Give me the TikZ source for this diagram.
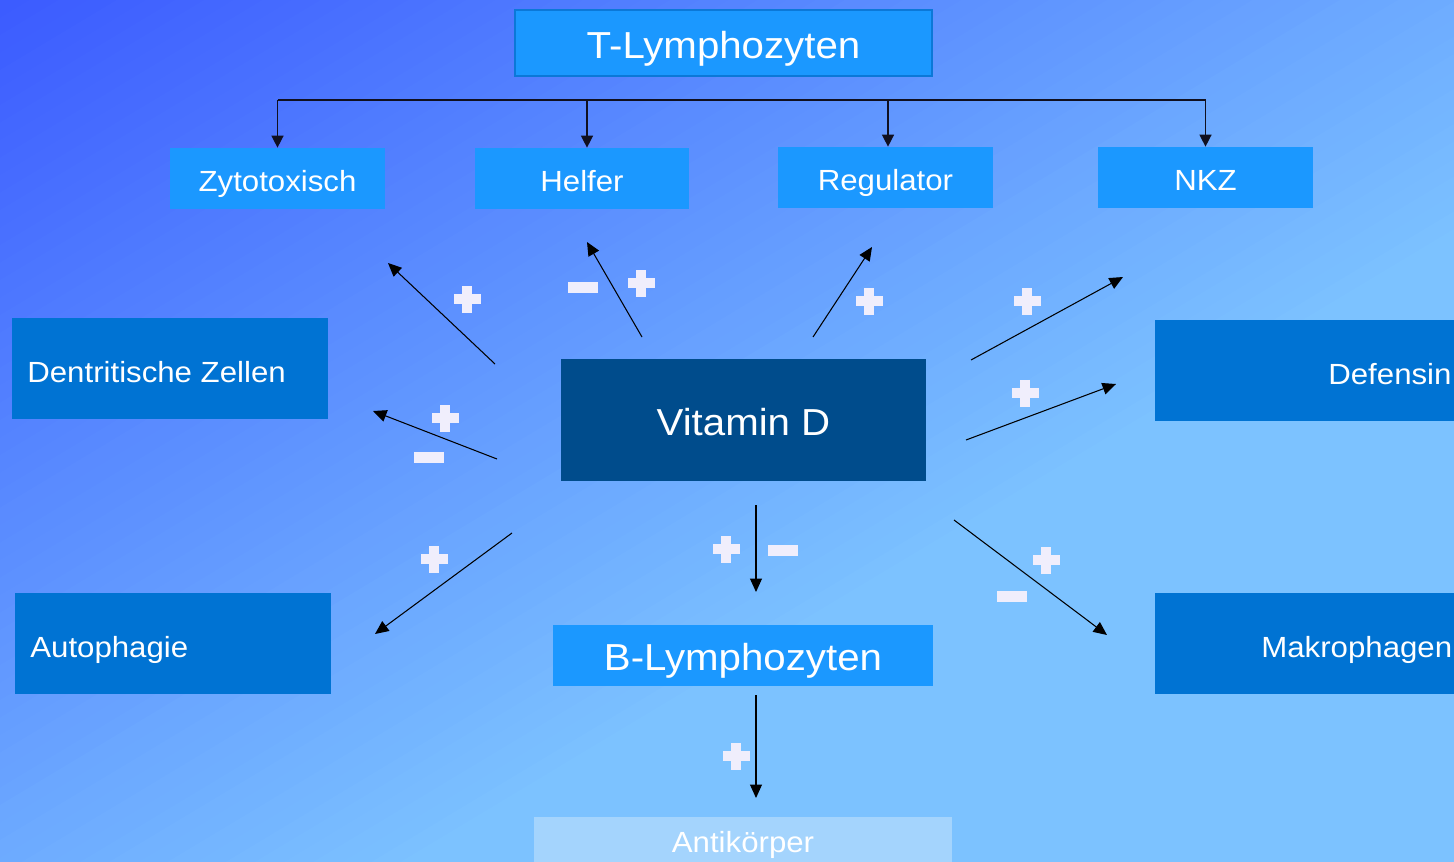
\documentclass[tikz,border=0pt]{standalone}
\usepackage{fontspec}
\setmainfont[FakeStretch=1.07]{Liberation Sans}
\usetikzlibrary{arrows.meta}
\definecolor{bgA}{HTML}{3C5CFF}
\definecolor{bgB}{HTML}{7CC2FF}
\definecolor{boxlight}{HTML}{1B98FF}
\definecolor{boxmid}{HTML}{0073D3}
\definecolor{boxdark}{HTML}{004C8C}
\definecolor{boxpale}{HTML}{A4D4FD}
\definecolor{tborder}{HTML}{0B78D8}
\definecolor{signc}{HTML}{F0EEFC}
\definecolor{linec}{HTML}{101020}
\newcommand\fontS{\fontsize{16.6pt}{20pt}\selectfont}
\newcommand\fontL{\fontsize{21.4pt}{26pt}\selectfont}
\begin{document}
\begin{tikzpicture}[x=0.02cm,y=-0.02cm,
  box/.style={rectangle, inner sep=0pt, text=white, text depth=0pt},
  smallbox/.style={box, fill=boxlight, font=\fontS, text height=14.75pt,
    minimum width=4.3cm, minimum height=1.22cm},
  bigtext/.style={font=\fontL, text height=17.6pt},
  sidebox/.style={box, fill=boxmid, minimum height=2.02cm},
  sidetext/.style={inner sep=0pt, text=white, font=\fontS, anchor=base west},
  arr/.style={draw=black, line width=0.6pt, -{Triangle[length=0.27cm,width=0.24cm]}},
  tree/.style={draw=linec, line width=0.8pt},
  treearr/.style={tree, -{Triangle[length=0.24cm,width=0.24cm]}},
  plussign/.pic={\fill[signc] (-13.5,-5) rectangle (13.5,5);
                 \fill[signc] (-5,-13.5) rectangle (5,13.5);},
  minussign/.pic={\fill[signc] (-15,-5.5) rectangle (15,5.5);}
]
% background
\useasboundingbox (0,0) rectangle (1454,862);
\clip (0,0) rectangle (1454,862);
\fill[bgB] (0,0) rectangle (1454,862);
\foreach \i in {0,...,63}{
  \pgfmathtruncatemacro\p{\i*100/63}
  \fill[bgB!\p!bgA, rotate around={-59:(0,0)}] (\i*15,-1500) rectangle (\i*15+16,1500);
}

% nodes
\node[box, fill=boxlight, draw=tborder, line width=1.2pt, bigtext,
      minimum width=8.34cm, minimum height=1.32cm] (tly) at (723.5,43) {T-Lymphozyten};
\node[smallbox] (zyt) at (277.5,178.5) {Zytotoxisch};
\node[smallbox] (hel) at (582,178.5) {Helfer};
\node[smallbox] (reg) at (885.5,177.5) {Regulator};
\node[smallbox] (nkz) at (1205.5,177.5) {NKZ};

\node[sidebox, minimum width=6.32cm] (dzb) at (170,368.5) {};
\node[sidetext] (dzt) at (27,382) {Dentritische Zellen};
\node[sidebox, minimum width=6.32cm] (apb) at (173,643.5) {};
\node[sidetext] (apt) at (30,657.5) {Autophagie};
\node[sidebox, minimum width=6.5cm] (dfb) at (1317.5,370.5) {};
\node[sidetext] (dft) at (1328,384.5) {Defensin};
\node[sidebox, minimum width=6.5cm] (mkb) at (1317.5,643.5) {};
\node[sidetext] (mkt) at (1261,657.5) {Makrophagen};

\node[box, fill=boxdark, bigtext, minimum width=7.3cm, minimum height=2.44cm] (vd) at (743.5,420) {Vitamin D};
\node[box, fill=boxlight, bigtext, minimum width=7.6cm, minimum height=1.22cm] (bly) at (743,655) {B-Lymphozyten};
\node[box, fill=boxpale, font=\fontS, text height=11.9pt, minimum width=8.36cm, minimum height=1.0cm] (ak) at (743,842) {Antikörper};

% tree connectors
\coordinate (tl) at (277.5,100);
\coordinate (tr) at (1205.5,100);
\coordinate (th) at (587,100);
\coordinate (tg) at (888,100);
\draw[tree] (tl) -- (tr);
\draw[treearr] (tl) -- (zyt.north);
\draw[treearr] (th) -- (th |- hel.north);
\draw[treearr] (tg) -- (tg |- reg.north);
\draw[treearr] (tr) -- (nkz.north);

% arrows from Vitamin D
\coordinate (s1) at (495,364);  \coordinate (e1) at (388,263);
\coordinate (s2) at (642,337);  \coordinate (e2) at (587,242);
\coordinate (s3) at (813,337);  \coordinate (e3) at (872,247);
\coordinate (s4) at (971,360);  \coordinate (e4) at (1123,277);
\coordinate (s5) at (966,440);  \coordinate (e5) at (1116,384);
\coordinate (s6) at (497,459);  \coordinate (e6) at (373,411);
\coordinate (s7) at (512,533);  \coordinate (e7) at (375,634);
\coordinate (s8) at (756,505);  \coordinate (e8) at (756,592);
\coordinate (s9) at (954,520);  \coordinate (e9) at (1107,635);
\coordinate (s10) at (756,695); \coordinate (e10) at (756,798);
\foreach \k in {1,...,10}{ \draw[arr] (s\k) -- (e\k); }

% signs
\pic at (467,299) {plussign};
\pic at (583,287) {minussign};
\pic at (641,283) {plussign};
\pic at (869,301) {plussign};
\pic at (1027,301) {plussign};
\pic at (1025,393) {plussign};
\pic at (445,418) {plussign};
\pic at (429,457) {minussign};
\pic at (434,559) {plussign};
\pic at (726,549) {plussign};
\pic at (783,550) {minussign};
\pic at (1046,560) {plussign};
\pic at (1012,596) {minussign};
\pic at (736,756) {plussign};
\end{tikzpicture}
\end{document}
